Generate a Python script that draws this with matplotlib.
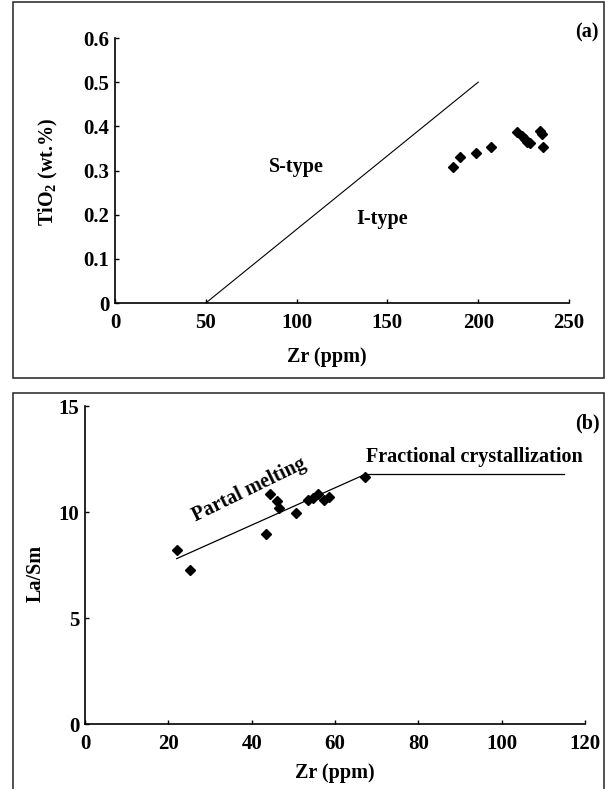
import matplotlib
matplotlib.use("Agg")
import matplotlib.pyplot as plt
from matplotlib.patches import Rectangle
from matplotlib.ticker import FuncFormatter

plt.rcParams['font.family'] = ['Liberation Serif', 'DejaVu Serif']
plt.rcParams['font.weight'] = 'bold'
plt.rcParams['mathtext.fontset'] = 'custom'
plt.rcParams['mathtext.rm'] = 'Liberation Serif:bold'
plt.rcParams['mathtext.default'] = 'regular'

# (a) Zr vs TiO2 ------------------------------------------------
zr_a = [186, 190, 199, 207, 221.5, 224, 226, 227, 228.5, 234, 235, 235.5]
tio2_a = [0.309, 0.330, 0.340, 0.354, 0.387, 0.378, 0.372, 0.364, 0.362, 0.390, 0.383, 0.354]
# S-type / I-type boundary
bound_zr = [50, 200]
bound_ti = [0, 0.5]

# (b) Zr vs La/Sm -----------------------------------------------
zr_b = [22, 25.3, 43.5, 44.3, 46, 46.5, 50.7, 53.6, 54.8, 56, 57.4, 58.5, 67.2]
lasm_b = [8.2, 7.25, 8.97, 10.85, 10.5, 10.18, 9.95, 10.55, 10.65, 10.85, 10.58, 10.7, 11.65]
# partial melting trend and fractional crystallization trend
pm_zr = [22, 67.5]
pm_lasm = [7.8, 11.8]
fc_zr = [67.5, 115]
fc_lasm = [11.8, 11.8]

fs = 14.5
W, H = 611, 789
fig = plt.figure(figsize=(W / 100, H / 100), dpi=100)


def style_axes(ax):
    ax.spines['top'].set_visible(False)
    ax.spines['right'].set_visible(False)
    for s in ['left', 'bottom']:
        ax.spines[s].set_linewidth(1.2)
    ax.tick_params(direction='in', length=3, width=1, labelsize=15)
    ax.tick_params(axis='x', pad=7.5)
    ax.tick_params(axis='y', pad=4)
    for lbl in ax.get_xticklabels() + ax.get_yticklabels():
        lbl.set_fontweight('bold')


def fmt(v, pos):
    return "0" if v == 0 else f"{v:g}"


# top panel
ax1 = fig.add_axes([115 / W, 1 - 303 / H, 454 / W, 265 / H])
ax1.plot(bound_zr, bound_ti, color='black', lw=0.8)
ax1.plot(zr_a, tio2_a, 'D', color='black', ms=5.2, clip_on=False)
ax1.set_xlim(0, 250)
ax1.set_ylim(0, 0.6)
ax1.set_xticks(range(0, 251, 50))
ax1.set_yticks([0, 0.1, 0.2, 0.3, 0.4, 0.5, 0.6])
ax1.yaxis.set_major_formatter(FuncFormatter(fmt))
style_axes(ax1)
ax1.set_xlabel("Zr (ppm)", fontsize=fs, fontweight='bold')
ax1.xaxis.set_label_coords(0.467, -0.166)
ax1.set_ylabel("TiO$_2$ (wt.%)", fontsize=fs, fontweight='bold')
ax1.yaxis.set_label_coords(-0.122, 0.494)
ax1.text(100, 0.308, "S-type", fontsize=fs, fontweight='bold', ha='center', va='center')
ax1.text(147, 0.19, "I-type", fontsize=fs, fontweight='bold', ha='center', va='center')

# bottom panel
ax2 = fig.add_axes([85 / W, 1 - 724 / H, 500 / W, 318 / H])
ax2.plot(pm_zr, pm_lasm, color='black', lw=0.9)
ax2.plot(fc_zr, fc_lasm, color='black', lw=0.9)
ax2.plot(zr_b, lasm_b, 'D', color='black', ms=5.2, clip_on=False)
ax2.set_xlim(0, 120)
ax2.set_ylim(0, 15)
ax2.set_xticks(range(0, 121, 20))
ax2.set_yticks(range(0, 16, 5))
style_axes(ax2)
ax2.set_xlabel("Zr (ppm)", fontsize=fs, fontweight='bold')
ax2.xaxis.set_label_coords(0.5, -0.123)
ax2.set_ylabel("La/Sm", fontsize=fs, fontweight='bold')
ax2.yaxis.set_label_coords(-0.078, 0.475)
ax2.text(39.4, 11.05, "Partal melting", fontsize=fs, fontweight='bold',
         ha='center', va='center', rotation=26, rotation_mode='anchor')
ax2.text(67.5, 12.6, "Fractional crystallization", fontsize=fs, fontweight='bold',
         ha='left', va='center', clip_on=False)

# panel letters
fig.text(587 / W, 1 - 32 / H, "(a)", fontsize=fs, fontweight='bold', ha='center', va='center')
fig.text(587 / W, 1 - 423 / H, "(b)", fontsize=fs, fontweight='bold', ha='center', va='center')

# frames round each panel
frame_col = '#222222'
fig.patches.append(Rectangle((12.5 / W, 1 - 378 / H), (604 - 12.5) / W, (378 - 1.5) / H,
                             transform=fig.transFigure, fill=False, lw=1.1, ec=frame_col))
fig.patches.append(Rectangle((12.5 / W, -0.05), (604 - 12.5) / W, (1 - 393 / H) + 0.05,
                             transform=fig.transFigure, fill=False, lw=1.1, ec=frame_col))

fig.savefig("out.png", dpi=100)
